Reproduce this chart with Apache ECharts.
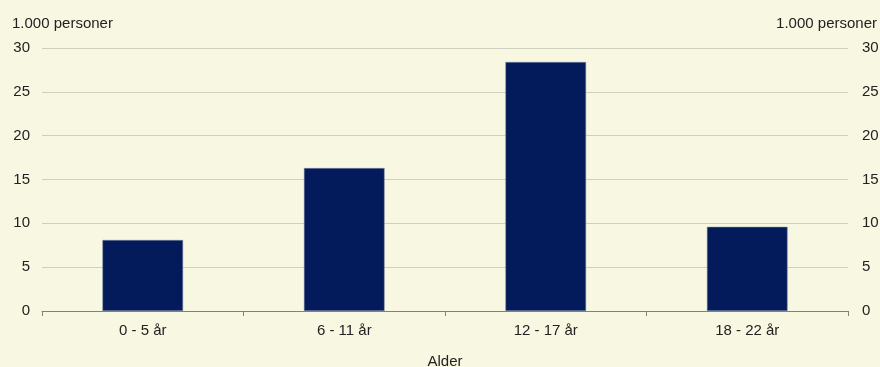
<!DOCTYPE html>
<html><head><meta charset="utf-8">
<script src="https://cdn.jsdelivr.net/npm/echarts@6/dist/echarts.min.js"></script>
<style>html,body{margin:0;padding:0;background:#f8f7e1;}#c{width:880px;height:367px;}</style>
</head><body><div id="c"></div>
<script>
const categories = ['0 - 5 år', '6 - 11 år', '12 - 17 år', '18 - 22 år'];
const values = [8.1, 16.3, 28.4, 9.6];
const unitLabel = '1.000 personer';
const xTitle = 'Alder';

const chart = echarts.init(document.getElementById('c'));
const axisLabelStyle = { color: '#222', fontSize: 15, fontFamily: 'Liberation Sans, Arial, sans-serif' };
chart.setOption({
  backgroundColor: '#f8f7e1',
  animation: false,
  grid: { left: 42, right: 32, top: 48, bottom: 56, containLabel: false, outerBoundsMode: 'none' },
  xAxis: {
    type: 'category', data: categories,
    name: xTitle, nameLocation: 'middle', nameGap: 43,
    nameTextStyle: axisLabelStyle,
    axisLine: { lineStyle: { color: '#808080', width: 1 } },
    axisTick: { show: true, length: 5, lineStyle: { color: '#808080' } },
    axisLabel: Object.assign({ margin: 12 }, axisLabelStyle)
  },
  yAxis: [
    { type: 'value', min: 0, max: 30, interval: 5,
      name: unitLabel, nameLocation: 'end', nameGap: 17,
      nameTextStyle: Object.assign({ align: 'left', padding: [0, 0, 0, -30] }, axisLabelStyle),
      axisLine: { show: false }, axisTick: { show: false },
      axisLabel: Object.assign({ margin: 12 }, axisLabelStyle),
      splitLine: { lineStyle: { color: '#cfcfc0', width: 1 } } },
    { type: 'value', min: 0, max: 30, interval: 5, position: 'right',
      name: unitLabel, nameLocation: 'end', nameGap: 17,
      nameTextStyle: Object.assign({ align: 'right', padding: [0, -29, 0, 0] }, axisLabelStyle),
      axisLine: { show: false }, axisTick: { show: false },
      axisLabel: Object.assign({ margin: 14 }, axisLabelStyle),
      splitLine: { show: false } }
  ],
  series: [{
    type: 'bar', data: values, barWidth: '40%',
    itemStyle: { color: '#031b5a', borderColor: '#7f8aa8', borderWidth: 0.5 }
  }]
});
</script></body></html>
